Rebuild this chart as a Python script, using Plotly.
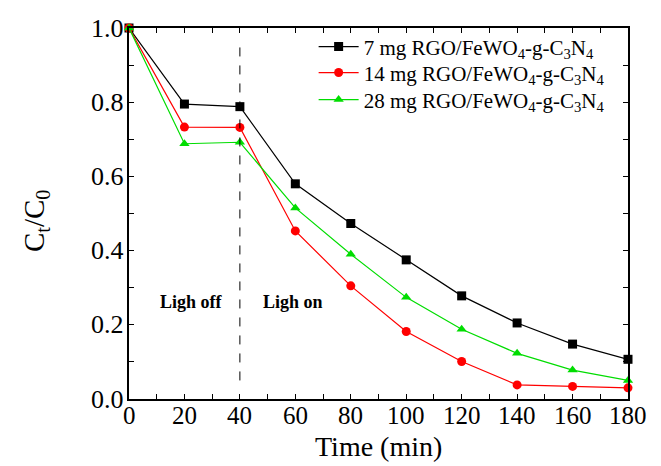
import plotly.graph_objects as go

time = [0, 20, 40, 60, 80, 100, 120, 140, 160, 180]
s7 = [1.0, 0.795, 0.788, 0.580, 0.473, 0.375, 0.278, 0.205, 0.148, 0.107]
s14 = [1.0, 0.733, 0.732, 0.453, 0.305, 0.182, 0.101, 0.038, 0.034, 0.030]
s28 = [1.0, 0.688, 0.692, 0.515, 0.390, 0.274, 0.188, 0.123, 0.078, 0.050]
names = ["7 mg RGO/FeWO<sub>4</sub>-g-C<sub>3</sub>N<sub>4</sub>",
         "14 mg RGO/FeWO<sub>4</sub>-g-C<sub>3</sub>N<sub>4</sub>",
         "28 mg RGO/FeWO<sub>4</sub>-g-C<sub>3</sub>N<sub>4</sub>"]
x_tick_labels = [0, 20, 40, 60, 80, 100, 120, 140, 160, 180]
y_tick_labels = [0.0, 0.2, 0.4, 0.6, 0.8, 1.0]
colors = ["black", "red", "#00dd00"]
symbols = ["square", "circle", "triangle-up"]
legend_ids = ["legend", "legend2", "legend3"]
legend_y = [0.949, 0.879, 0.806]

FONT = "Liberation Serif"
fig = go.Figure()
for ys, nm, c, sym, lg in zip([s7, s14, s28], names, colors, symbols, legend_ids):
    fig.add_trace(go.Scatter(x=time, y=ys, name=nm, mode="lines+markers",
                             line=dict(color=c, width=1.2),
                             marker=dict(symbol=sym, size=9, color=c),
                             cliponaxis=False, legend=lg))

fig.add_shape(type="line", x0=40, x1=40, y0=0.05, y1=0.95, xref="x", yref="y",
              line=dict(color="black", width=1, dash="dash"))
fig.add_annotation(x=22.7, y=0.261, text="<b>Ligh off</b>", showarrow=False,
                   font=dict(family=FONT, size=18, color="black"))
fig.add_annotation(x=59.3, y=0.261, text="<b>Ligh on</b>", showarrow=False,
                   font=dict(family=FONT, size=18, color="black"))

# tick labels (as text at the axis positions)
for v in x_tick_labels:
    fig.add_annotation(x=v, xref="x", y=0, yref="paper", yanchor="top", yshift=-2,
                       text=str(v), showarrow=False, borderpad=0,
                       font=dict(family=FONT, size=25, color="black"))
for v in y_tick_labels:
    fig.add_annotation(x=0, xref="paper", y=v, yref="y", xanchor="right", xshift=-4,
                       text=f"{v:.1f}", showarrow=False, borderpad=0,
                       font=dict(family=FONT, size=26, color="black"))

fig.add_annotation(x=0.5, y=-0.128, xref="paper", yref="paper", text="Time (min)",
                   showarrow=False, xanchor="center", yanchor="middle", borderpad=0,
                   font=dict(family=FONT, size=28, color="black"))
fig.add_annotation(x=-0.186, y=0.48, xref="paper", yref="paper",
                   text="C<sub>t</sub>/C<sub>0</sub>", textangle=-90,
                   showarrow=False, xanchor="center", yanchor="middle",
                   font=dict(family=FONT, size=29, color="black"))

legend_common = dict(x=0.37, xanchor="left", yanchor="middle",
                     bgcolor="rgba(0,0,0,0)",
                     font=dict(family=FONT, size=21, color="black"),
                     itemwidth=40, tracegroupgap=0)

fig.update_layout(
    width=653, height=458, plot_bgcolor="white", paper_bgcolor="white",
    font=dict(family=FONT, size=25, color="black"),
    margin=dict(l=121, r=33, t=20, b=67, autoexpand=False),
    xaxis=dict(range=[0, 180], tickmode="array", tickvals=list(range(0, 181, 10)),
               showticklabels=False,
               showline=True, linecolor="black", linewidth=1.5, mirror="allticks",
               ticks="inside", ticklen=5, tickwidth=1.2, tickcolor="black",
               showgrid=False, zeroline=False),
    yaxis=dict(range=[0, 1.0], tickmode="array", tickvals=[i / 10 for i in range(11)],
               showticklabels=False,
               showline=True, linecolor="black", linewidth=1.5, mirror="allticks",
               ticks="inside", ticklen=5, tickwidth=1.2, tickcolor="black",
               showgrid=False, zeroline=False),
    legend=dict(y=legend_y[0], **legend_common),
    legend2=dict(y=legend_y[1], **legend_common),
    legend3=dict(y=legend_y[2], **legend_common),
    showlegend=True)
fig.write_html("out.html")
